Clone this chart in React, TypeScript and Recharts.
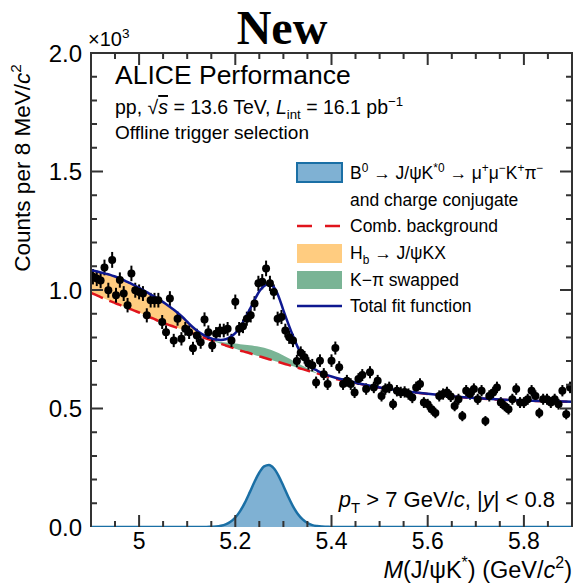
import React from 'react';
import { ComposedChart, XAxis, YAxis, Area, Line, Scatter, ErrorBar } from 'recharts';

const BIN_LOW = 4.9;
const BIN_WIDTH = 0.008;
const counts = [
  1.056, 1.049, 1.040, 1.095, 0.999, 1.127, 0.978, 1.042, 0.985, 0.936,
  1.070, 0.999, 0.992, 0.985, 0.893, 0.957, 0.957, 0.957, 0.865, 0.822,
  0.964, 0.787, 0.879, 0.794, 0.836, 0.822, 0.754, 0.808, 0.780, 0.876,
  0.822, 0.766, 0.815, 0.829, 0.829, 0.836, 0.787, 0.950, 0.836, 0.847,
  0.879, 0.893, 0.943, 1.028, 1.035, 1.091, 1.028, 0.992, 0.879, 0.886,
  0.829, 0.801, 0.787, 0.700, 0.735, 0.716, 0.690, 0.683, 0.610, 0.702,
  0.645, 0.603, 0.702, 0.755, 0.674, 0.603, 0.617, 0.603, 0.568, 0.624,
  0.641, 0.582, 0.653, 0.589, 0.617, 0.553, 0.582, 0.589, 0.518, 0.575,
  0.568, 0.570, 0.561, 0.546, 0.589, 0.603, 0.525, 0.518, 0.497, 0.481,
  0.553, 0.561, 0.568, 0.551, 0.511, 0.539, 0.468, 0.575, 0.561, 0.582,
  0.539, 0.575, 0.447, 0.553, 0.568, 0.589, 0.525, 0.511, 0.497, 0.539,
  0.582, 0.525, 0.525, 0.539, 0.575, 0.553, 0.481, 0.539, 0.539, 0.525,
  0.539, 0.518, 0.575, 0.476, 0.589,
];

const curveMass = [
  4.90, 4.91, 4.92, 4.93, 4.94, 4.95, 4.96, 4.97, 4.98, 4.99,
  5.00, 5.01, 5.02, 5.03, 5.04, 5.05, 5.06, 5.07, 5.08, 5.09,
  5.10, 5.11, 5.12, 5.13, 5.14, 5.15, 5.16, 5.17, 5.18, 5.19,
  5.20, 5.21, 5.22, 5.23, 5.24, 5.25, 5.26, 5.27, 5.28, 5.29,
  5.30, 5.31, 5.32, 5.33, 5.34, 5.35, 5.36, 5.37, 5.38, 5.39,
  5.40, 5.45, 5.50, 5.55, 5.60, 5.65, 5.70, 5.75, 5.80, 5.85, 5.90,
];
const combBackground = [
  0.988, 0.979, 0.970, 0.962, 0.953, 0.945, 0.937, 0.929, 0.921, 0.913,
  0.905, 0.896, 0.887, 0.879, 0.870, 0.862, 0.854, 0.847, 0.840, 0.833,
  0.826, 0.818, 0.810, 0.802, 0.795, 0.788, 0.781, 0.773, 0.766, 0.759,
  0.752, 0.745, 0.739, 0.733, 0.726, 0.720, 0.714, 0.708, 0.702, 0.696,
  0.690, 0.684, 0.678, 0.672, 0.666, 0.660, 0.654, 0.648, 0.642, 0.636,
  0.630, 0.607, 0.588, 0.573, 0.561, 0.551, 0.543, 0.537, 0.533, 0.530, 0.528,
];
const totalFit = [
  1.083, 1.079, 1.074, 1.069, 1.064, 1.057, 1.049, 1.040, 1.030, 1.020,
  1.009, 0.998, 0.986, 0.974, 0.962, 0.949, 0.935, 0.920, 0.904, 0.886,
  0.866, 0.846, 0.829, 0.815, 0.804, 0.796, 0.791, 0.789, 0.792, 0.802,
  0.818, 0.844, 0.879, 0.918, 0.958, 0.995, 1.017, 1.024, 1.012, 0.973,
  0.914, 0.858, 0.806, 0.758, 0.720, 0.694, 0.672, 0.660, 0.650, 0.642,
  0.635, 0.609, 0.589, 0.574, 0.562, 0.552, 0.544, 0.538, 0.534, 0.531, 0.529,
];

const hbMass = [
  4.90, 4.91, 4.92, 4.93, 4.94, 4.95, 4.96, 4.97, 4.98, 4.99,
  5.00, 5.01, 5.02, 5.03, 5.04, 5.05, 5.06, 5.07, 5.08, 5.09,
  5.10, 5.11, 5.12, 5.13, 5.14, 5.15, 5.16,
];
const hbValues = [
  0.095, 0.100, 0.104, 0.107, 0.111, 0.112, 0.112, 0.111, 0.109, 0.107,
  0.104, 0.102, 0.099, 0.095, 0.092, 0.087, 0.081, 0.073, 0.064, 0.053,
  0.040, 0.028, 0.019, 0.012, 0.007, 0.003, 0.000,
];

const swapMass = [
  5.15, 5.16, 5.17, 5.18, 5.19, 5.20, 5.21, 5.22, 5.23, 5.24, 5.25, 5.26,
  5.27, 5.28, 5.29, 5.30, 5.31, 5.32, 5.33, 5.34, 5.35, 5.36, 5.37, 5.38,
];
const swapValues = [
  0.000, 0.004, 0.008, 0.013, 0.018, 0.022, 0.026, 0.030, 0.034, 0.038, 0.041, 0.042,
  0.042, 0.041, 0.038, 0.034, 0.029, 0.024, 0.019, 0.014, 0.009, 0.005, 0.002, 0.000,
];

const sigMass = [
  4.90, 5.12, 5.13, 5.14, 5.15, 5.16, 5.17, 5.18, 5.19, 5.20, 5.21, 5.22, 5.23,
  5.24, 5.25, 5.26, 5.27, 5.28, 5.29, 5.30, 5.31, 5.32, 5.33, 5.34, 5.35, 5.36,
  5.37, 5.38, 5.39, 5.40, 5.90,
];
const sigValues = [
  0.000, 0.000, 0.000, 0.000, 0.001, 0.002, 0.005, 0.011, 0.022, 0.040, 0.067, 0.103, 0.146,
  0.191, 0.230, 0.256, 0.262, 0.248, 0.216, 0.173, 0.128, 0.087, 0.055, 0.032, 0.017, 0.008,
  0.004, 0.002, 0.001, 0.000, 0.000,
];

const xMajor = [5.0, 5.2, 5.4, 5.6, 5.8];
const yMajor = [0, 0.5, 1.0, 1.5, 2.0];

const key = (m: number) => m.toFixed(2);
const bkgAt: Record<string, number> = {};
curveMass.forEach((m, i) => { bkgAt[key(m)] = combBackground[i]; });

const pointData = counts.map((v, i) => ({
  m: BIN_LOW + BIN_WIDTH * (i + 0.5),
  v,
  err: Math.sqrt(v * 1000) / 1000,
}));
const bkgData = curveMass.map((m, i) => ({ m, v: combBackground[i] }));
const totalData = curveMass.map((m, i) => ({ m, v: totalFit[i] }));
const hbData = hbMass.map((m, i) => ({ m, r: [bkgAt[key(m)], bkgAt[key(m)] + hbValues[i]] }));
const swapData = swapMass.map((m, i) => ({ m, r: [bkgAt[key(m)], bkgAt[key(m)] + swapValues[i]] }));
const sigData = sigMass.map((m, i) => ({ m, v: sigValues[i] }));

const W = 574, H = 584;
const PL = 91, PR = 572, PT = 53, PB = 527;
const X_MIN = 4.9, X_MAX = 5.9, Y_MAX = 2.0;
const px = (m: number) => PL + ((m - X_MIN) / (X_MAX - X_MIN)) * (PR - PL);
const py = (v: number) => PB - (v / Y_MAX) * (PB - PT);

const xMinor: number[] = [];
for (let k = 1; k < 20; k++) xMinor.push(+(4.9 + 0.05 * k).toFixed(2));
const yMinor: number[] = [];
for (let k = 1; k < 20; k++) yMinor.push(+(0.1 * k).toFixed(1));
const isXMajor = (x: number) => xMajor.some((t) => Math.abs(t - x) < 1e-6);
const isYMajor = (y: number) => yMajor.some((t) => Math.abs(t - y) < 1e-6);

const FONT = '"Liberation Sans", Arial, Helvetica, sans-serif';
const FRAME = '#333333';
const SIG_FILL = '#7fb1d3';
const SIG_LINE = '#1a6fa5';
const ORANGE = '#ffcc80';
const GREEN = '#7ab495';
const RED = '#e0141c';
const NAVY = '#0e1890';

type Part = { t: string; s?: 'sup' | 'sub'; i?: boolean; o?: boolean };
function Rich({ x, y, size, anchor = 'start', parts, transform }: { x: number; y: number; size: number; anchor?: string; parts: Part[]; transform?: string }) {
  let cur = 0;
  return (
    <text x={x} y={y} fontSize={size} textAnchor={anchor as any} fontFamily={FONT} fill="#000" transform={transform}>
      {parts.map((p, k) => {
        const target = p.s === 'sup' ? -size * 0.42 : p.s === 'sub' ? size * 0.28 : 0;
        const dy = target - cur;
        cur = target;
        return (
          <tspan key={k} dy={dy} fontSize={p.s ? size * 0.68 : size} fontStyle={p.i ? 'italic' : 'normal'} textDecoration={p.o ? 'overline' : undefined}>
            {p.t}
          </tspan>
        );
      })}
    </text>
  );
}

const tickPath = (() => {
  let d = `M${PL},${PB} L${PL},${PT} L${PR},${PT} L${PR},${PB} `;
  xMinor.forEach((x) => {
    const len = isXMajor(x) ? 12 : 6;
    const X = px(x).toFixed(1);
    d += `M${X},${PB} L${X},${PB - len} M${X},${PT} L${X},${PT + len} `;
  });
  yMinor.forEach((y) => {
    const len = isYMajor(y) ? 12 : 6;
    const Y = py(y).toFixed(1);
    d += `M${PL},${Y} L${PL + len},${Y} M${PR},${Y} L${PR - len},${Y} `;
  });
  return d;
})();

const Dot = (props: any) => <circle cx={props.cx} cy={props.cy} r={4} fill="#000" />;

export default function App() {
  return (
    <div style={{ position: 'absolute', left: 0, top: 0, width: W, height: H, background: '#fff' }}>
      <div style={{ position: 'absolute', left: 0, top: 0 }}>
        <ComposedChart width={W} height={H} margin={{ top: PT, right: W - PR, bottom: 27, left: 0 }}>
          <XAxis
            type="number"
            dataKey="m"
            domain={[X_MIN, X_MAX]}
            ticks={xMajor}
            interval={0}
            allowDataOverflow
            height={H - PB - 27}
            tickSize={0}
            tickMargin={6}
            axisLine={false}
            tickLine={false}
            tick={{ fontSize: 23, fill: '#000', fontFamily: FONT }}
            tickFormatter={(v: number) => String(+v.toFixed(1))}
          />
          <YAxis
            type="number"
            domain={[0, Y_MAX]}
            ticks={yMajor}
            interval={0}
            allowDataOverflow
            width={PL}
            tickSize={0}
            tickMargin={9}
            axisLine={false}
            tickLine={false}
            tick={{ fontSize: 24, fill: '#000', fontFamily: FONT }}
            tickFormatter={(v: number) => v.toFixed(1)}
          />
          <Area data={hbData} dataKey="r" type="monotone" fill={ORANGE} fillOpacity={1} stroke="none" isAnimationActive={false} />
          <Area data={swapData} dataKey="r" type="monotone" fill={GREEN} fillOpacity={1} stroke="none" isAnimationActive={false} />
          <Area data={sigData} dataKey="v" type="monotone" fill={SIG_FILL} fillOpacity={1} stroke={SIG_LINE} strokeWidth={2.5} isAnimationActive={false} />
          <Line data={bkgData} dataKey="v" type="monotone" stroke={RED} strokeWidth={2.5} strokeDasharray="13 7" dot={false} isAnimationActive={false} />
          <Scatter data={pointData} dataKey="v" shape={Dot} isAnimationActive={false}>
            <ErrorBar dataKey="err" direction="y" width={0} stroke="#000" strokeWidth={2} />
          </Scatter>
          <Line data={totalData} dataKey="v" type="monotone" stroke={NAVY} strokeWidth={2.5} dot={false} isAnimationActive={false} />
        </ComposedChart>
      </div>
      <svg width={W} height={H} style={{ position: 'absolute', left: 0, top: 0, pointerEvents: 'none' }}>
        <path d={tickPath} stroke={FRAME} strokeWidth={2} fill="none" />
        <text x={282} y={44} textAnchor="middle" fontFamily='"Liberation Serif", "Times New Roman", serif' fontWeight="bold" fontSize={48} fill="#000">New</text>
        <Rich x={88} y={46} size={20} parts={[{ t: '×10' }, { t: '3', s: 'sup' }]} />
        <Rich x={115} y={84} size={26.5} parts={[{ t: 'ALICE Performance' }]} />
        <Rich x={115} y={114} size={19.5} parts={[
          { t: 'pp, √' }, { t: 's', i: true, o: true }, { t: ' = 13.6 TeV, ' }, { t: 'L', i: true }, { t: 'int', s: 'sub' },
          { t: ' = 16.1 pb' }, { t: '−1', s: 'sup' },
        ]} />
        <Rich x={115} y={139} size={19} parts={[{ t: 'Offline trigger selection' }]} />

        <rect x={297} y={163} width={45} height={19} fill={SIG_FILL} stroke={SIG_LINE} strokeWidth={2} />
        <Rich x={350} y={179} size={17.5} parts={[
          { t: 'B' }, { t: '0', s: 'sup' }, { t: ' → J/ψK' }, { t: '*0', s: 'sup' }, { t: ' → μ' }, { t: '+', s: 'sup' },
          { t: 'μ' }, { t: '−', s: 'sup' }, { t: 'K' }, { t: '+', s: 'sup' }, { t: 'π' }, { t: '−', s: 'sup' },
        ]} />
        <Rich x={350} y={206} size={17.5} parts={[{ t: 'and charge conjugate' }]} />
        <line x1={297} y1={226} x2={342} y2={226} stroke={RED} strokeWidth={2.5} strokeDasharray="15 13" />
        <Rich x={350} y={232} size={17.5} parts={[{ t: 'Comb. background' }]} />
        <rect x={297} y={244} width={45} height={19} fill={ORANGE} />
        <Rich x={350} y={259} size={17.5} parts={[{ t: 'H' }, { t: 'b', s: 'sub' }, { t: ' → J/ψKX' }]} />
        <rect x={297} y={271} width={45} height={18} fill={GREEN} />
        <Rich x={350} y={286} size={17.5} parts={[{ t: 'K−π swapped' }]} />
        <line x1={297} y1={306} x2={342} y2={306} stroke={NAVY} strokeWidth={2.5} />
        <Rich x={350} y={312} size={17.5} parts={[{ t: 'Total fit function' }]} />

        <Rich x={555} y={507} size={22} anchor="end" parts={[
          { t: 'p', i: true }, { t: 'T', s: 'sub' }, { t: ' > 7 GeV/' }, { t: 'c', i: true }, { t: ', |' }, { t: 'y', i: true }, { t: '| < 0.8' },
        ]} />
        <Rich x={572} y={578} size={23.5} anchor="end" parts={[
          { t: 'M', i: true }, { t: '(J/ψK' }, { t: '*', s: 'sup' }, { t: ') (GeV/' }, { t: 'c', i: true }, { t: '2', s: 'sup' }, { t: ')' },
        ]} />
        <Rich x={0} y={0} size={22.5} anchor="middle" transform="translate(30,168) rotate(-90)" parts={[
          { t: 'Counts per 8 MeV/' }, { t: 'c', i: true }, { t: '2', s: 'sup' },
        ]} />
      </svg>
    </div>
  );
}
